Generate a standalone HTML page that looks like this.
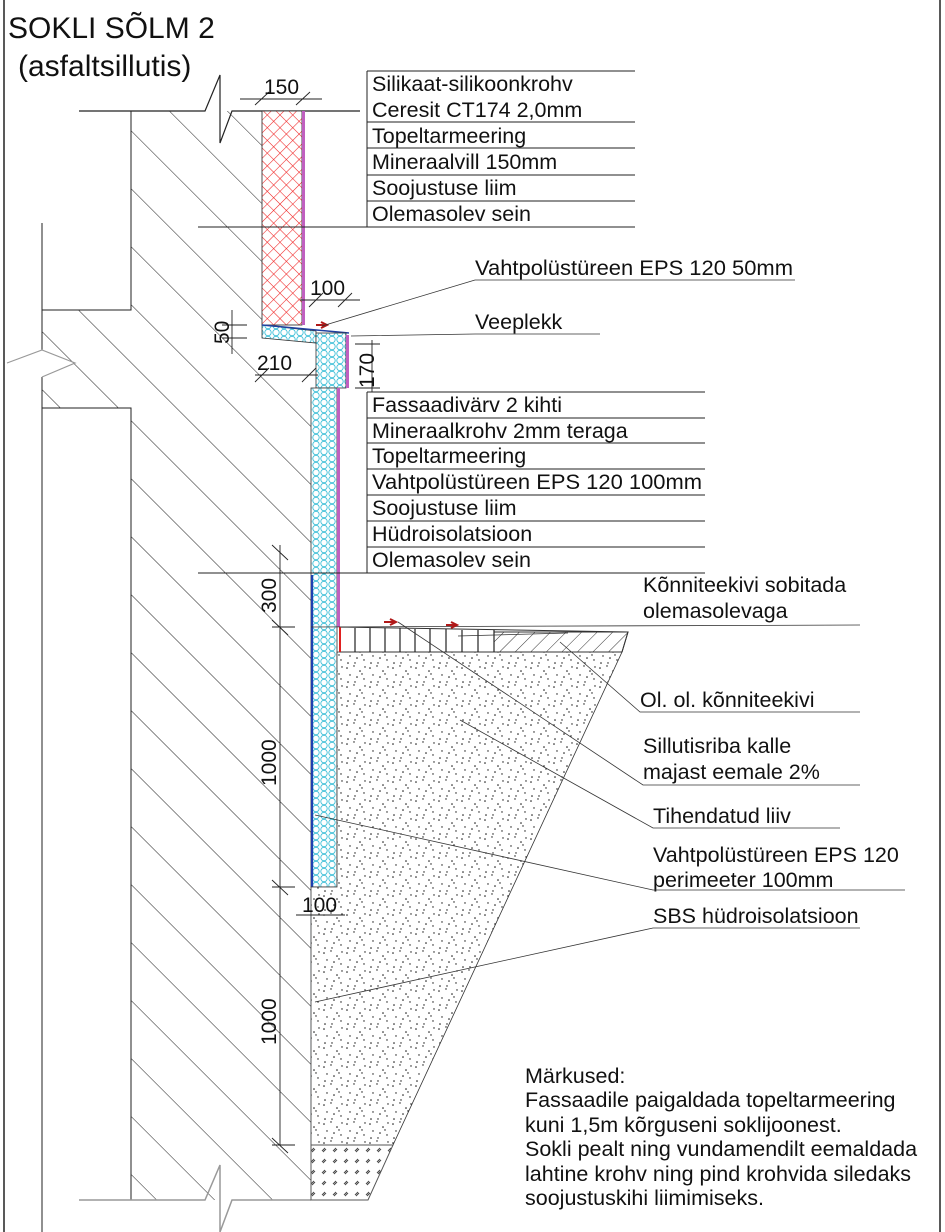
<!DOCTYPE html>
<html><head><meta charset="utf-8"><style>
html,body{margin:0;padding:0;background:#fff}
svg{display:block}
text{font-family:"Liberation Sans",Arial,sans-serif;fill:#111}
</style></head><body>
<svg width="945" height="1232" viewBox="0 0 945 1232" xmlns="http://www.w3.org/2000/svg">
<defs>
<pattern id="wallh" patternUnits="userSpaceOnUse" width="41" height="41" patternTransform="rotate(-45)">
<line x1="0" y1="0" x2="0" y2="41" stroke="#222" stroke-width="1"/>
</pattern>
<pattern id="redx" patternUnits="userSpaceOnUse" width="9" height="9" patternTransform="rotate(45)">
<rect width="9" height="9" fill="#fff"/>
<line x1="0" y1="0" x2="9" y2="0" stroke="#f02020" stroke-width="1.1"/>
<line x1="0" y1="0" x2="0" y2="9" stroke="#f02020" stroke-width="1.1"/>
</pattern>
<pattern id="hex" patternUnits="userSpaceOnUse" width="8" height="7">
<rect width="8" height="7" fill="#fff"/>
<circle cx="4" cy="3.5" r="3.2" fill="none" stroke="#40c0d8" stroke-width="0.9"/>
</pattern>
<pattern id="sand" patternUnits="userSpaceOnUse" width="23" height="19">
<rect width="23" height="19" fill="#fff"/>
<circle cx="2" cy="3" r="0.8" fill="#111"/><circle cx="9" cy="1" r="0.7" fill="#111"/>
<circle cx="15" cy="6" r="0.8" fill="#111"/><circle cx="20" cy="2" r="0.7" fill="#111"/>
<circle cx="5" cy="10" r="0.7" fill="#111"/><circle cx="12" cy="12" r="0.8" fill="#111"/>
<circle cx="19" cy="14" r="0.7" fill="#111"/><circle cx="3" cy="17" r="0.8" fill="#111"/>
<circle cx="10" cy="17" r="0.7" fill="#111"/><circle cx="17" cy="9" r="0.7" fill="#111"/>
</pattern>
<pattern id="grav" patternUnits="userSpaceOnUse" width="11" height="11">
<rect width="11" height="11" fill="#fff"/>
<path d="M3 7 L6 4 M4 8 L7 5" stroke="#444" stroke-width="1"/>
</pattern>
<pattern id="pav" patternUnits="userSpaceOnUse" width="11" height="11" patternTransform="rotate(45)">
<line x1="0" y1="0" x2="0" y2="11" stroke="#333" stroke-width="1"/>
</pattern>
</defs>

<line x1="4" y1="0" x2="4" y2="1232" stroke="#222" stroke-width="1.5"/>
<line x1="940" y1="0" x2="940" y2="1232" stroke="#222" stroke-width="1.5"/>

<text x="8" y="38" font-size="30">SOKLI SÕLM 2</text>
<text x="18" y="76" font-size="30">(asfaltsillutis)</text>

<polygon points="131,111 262,111 262,338 311,388 311,1200 131,1200 131,408 42,408 42,310 131,310" fill="url(#wallh)"/>
<polyline points="131,111 131,310 42,310" fill="none" stroke="#222" stroke-width="1"/>
<polyline points="131,1200 131,408 42,408" fill="none" stroke="#222" stroke-width="1"/>
<line x1="42" y1="223" x2="42" y2="350" stroke="#222"/>
<line x1="42" y1="377" x2="42" y2="1232" stroke="#222"/>
<polyline points="7,363 42,350 75,363 42,377" fill="none" stroke="#999" stroke-width="1.2"/>
<polyline points="79,111 205,111 220,75 220,143 232,111 360,111" fill="none" stroke="#222" stroke-width="1.2"/>
<polyline points="79,1200 205,1200 220,1165 220,1232 232,1200 311,1200" fill="none" stroke="#999" stroke-width="1.5"/>

<rect x="262" y="111" width="40" height="214" fill="url(#redx)" stroke="#222" stroke-width="0.8"/>
<rect x="302" y="111" width="3" height="214" fill="#c060c0"/>
<polygon points="262,325 316,331 316,343 262,338" fill="url(#hex)" stroke="#333" stroke-width="0.8"/>
<line x1="262" y1="325" x2="349" y2="333" stroke="#2040a0" stroke-width="1.5"/>
<rect x="316" y="333" width="30" height="55" fill="url(#hex)" stroke="#333" stroke-width="0.8"/>
<rect x="346" y="335" width="3" height="53" fill="#c060c0"/>
<rect x="311" y="388" width="26" height="499" fill="url(#hex)" stroke="#333" stroke-width="0.8"/>
<rect x="337" y="388" width="3" height="239" fill="#c060c0"/>
<line x1="312" y1="575" x2="312" y2="1145" stroke="#2040b0" stroke-width="2.2"/>

<polygon points="337,652 622,652 393,1145 311,1145 311,887 337,887" fill="url(#sand)" stroke="#333" stroke-width="0.8"/>
<polygon points="311,1145 393,1145 368,1200 311,1200" fill="url(#grav)" stroke="#555" stroke-width="1"/>
<polygon points="340,627 628,632 622,652 340,652" fill="#fff" stroke="#333" stroke-width="1"/>
<polygon points="494,632 628,632 622,652 494,652" fill="url(#pav)" stroke="#333" stroke-width="1"/>
<g stroke="#222" stroke-width="1.2">
<line x1="355" y1="628" x2="355" y2="652"/><line x1="370" y1="628" x2="370" y2="652"/>
<line x1="385" y1="628" x2="385" y2="652"/><line x1="400" y1="628" x2="400" y2="652"/>
<line x1="415" y1="629" x2="415" y2="652"/><line x1="430" y1="629" x2="430" y2="652"/>
<line x1="446" y1="629" x2="446" y2="652"/><line x1="462" y1="630" x2="462" y2="652"/>
<line x1="478" y1="630" x2="478" y2="652"/><line x1="494" y1="630" x2="494" y2="652"/>
</g>
<line x1="340" y1="627" x2="340" y2="652" stroke="#e02020" stroke-width="2"/>
<line x1="311" y1="627" x2="860" y2="625" stroke="#333" stroke-width="0.8"/>
<path d="M384 622 L395 622 M390 619 L396 622 L390 625" stroke="#b01818" stroke-width="2" fill="none"/>
<path d="M446 625 L456 625 M451 622 L457 625 L451 628" stroke="#b01818" stroke-width="2" fill="none"/>
<path d="M316 325 L326 325 M321 322 L327 325 L321 328" stroke="#b01818" stroke-width="2" fill="none"/>

<g stroke="#222" stroke-width="1">
<line x1="367" y1="71" x2="367" y2="227"/>
<line x1="367" y1="71" x2="635" y2="71"/>
<line x1="367" y1="122" x2="635" y2="122"/>
<line x1="367" y1="148" x2="635" y2="148"/>
<line x1="367" y1="175" x2="635" y2="175"/>
<line x1="367" y1="201" x2="635" y2="201"/>
<line x1="198" y1="227" x2="635" y2="227"/>
<line x1="367" y1="392" x2="367" y2="573"/>
<line x1="367" y1="392" x2="705" y2="392"/>
<line x1="367" y1="418" x2="705" y2="418"/>
<line x1="367" y1="443" x2="705" y2="443"/>
<line x1="367" y1="469" x2="705" y2="469"/>
<line x1="367" y1="495" x2="705" y2="495"/>
<line x1="367" y1="521" x2="705" y2="521"/>
<line x1="367" y1="547" x2="705" y2="547"/>
<line x1="198" y1="573" x2="705" y2="573"/>
</g>
<g font-size="21.5">
<text x="372" y="91">Silikaat-silikoonkrohv</text>
<text x="372" y="117">Ceresit CT174 2,0mm</text>
<text x="372" y="143">Topeltarmeering</text>
<text x="372" y="169">Mineraalvill 150mm</text>
<text x="372" y="195">Soojustuse liim</text>
<text x="372" y="221">Olemasolev sein</text>
<text x="372" y="412">Fassaadivärv 2 kihti</text>
<text x="372" y="438">Mineraalkrohv 2mm teraga</text>
<text x="372" y="463">Topeltarmeering</text>
<text x="372" y="489" textLength="330" lengthAdjust="spacingAndGlyphs">Vahtpolüstüreen EPS 120 100mm</text>
<text x="372" y="515">Soojustuse liim</text>
<text x="372" y="541">Hüdroisolatsioon</text>
<text x="372" y="567">Olemasolev sein</text>

<text x="475" y="275" textLength="318" lengthAdjust="spacingAndGlyphs">Vahtpolüstüreen EPS 120 50mm</text>
<text x="475" y="329">Veeplekk</text>
<text x="643" y="592">Kõnniteekivi sobitada</text>
<text x="643" y="618">olemasolevaga</text>
<text x="640" y="707">Ol. ol. kõnniteekivi</text>
<text x="643" y="753">Sillutisriba kalle</text>
<text x="643" y="779">majast eemale 2%</text>
<text x="653" y="823">Tihendatud liiv</text>
<text x="653" y="862">Vahtpolüstüreen EPS 120</text>
<text x="653" y="887">perimeeter 100mm</text>
<text x="653" y="923">SBS hüdroisolatsioon</text>
<text x="525" y="1083">Märkused:</text>
<text x="525" y="1107">Fassaadile paigaldada topeltarmeering</text>
<text x="525" y="1132">kuni 1,5m kõrguseni soklijoonest.</text>
<text x="525" y="1156">Sokli pealt ning vundamendilt eemaldada</text>
<text x="525" y="1181">lahtine krohv ning pind krohvida siledaks</text>
<text x="525" y="1205">soojustuskihi liimimiseks.</text>
</g>
<g stroke="#333" stroke-width="0.8" fill="none">
<polyline points="795,280 475,280 322,326"/>
<polyline points="600,334 475,334 351,336"/>
<polyline points="860,712 640,712 560,642"/>
<polyline points="860,785 643,785 398,622"/>
<polyline points="840,828 653,828 460,720"/>
<polyline points="905,890 653,890 315,815"/>
<polyline points="860,928 653,928 315,1002"/>
<line x1="568" y1="633" x2="458" y2="636"/>
</g>

<g stroke="#222" stroke-width="0.9">
<line x1="240" y1="99" x2="322" y2="99"/>
<line x1="255" y1="105" x2="269" y2="92"/><line x1="296" y1="105" x2="310" y2="92"/>
<line x1="300" y1="300" x2="360" y2="300"/>
<line x1="309" y1="307" x2="323" y2="293"/><line x1="338" y1="307" x2="352" y2="293"/>
<line x1="255" y1="375" x2="318" y2="375"/>
<line x1="255" y1="382" x2="269" y2="368"/><line x1="302" y1="382" x2="316" y2="368"/>
<line x1="232" y1="310" x2="232" y2="354"/>
<line x1="222" y1="325" x2="247" y2="325"/><line x1="222" y1="338" x2="247" y2="338"/>
<line x1="372" y1="340" x2="372" y2="392"/>
<line x1="355" y1="344" x2="380" y2="344"/><line x1="355" y1="388" x2="380" y2="388"/>
<line x1="280" y1="545" x2="280" y2="1145"/>
<line x1="272" y1="627" x2="295" y2="627"/><line x1="272" y1="887" x2="295" y2="887"/>
<line x1="272" y1="1145" x2="295" y2="1145"/>
<line x1="272" y1="620" x2="288" y2="635"/><line x1="272" y1="880" x2="288" y2="895"/>
<line x1="272" y1="1138" x2="288" y2="1153"/><line x1="272" y1="545" x2="288" y2="560"/>
<line x1="296" y1="915" x2="345" y2="915"/>
</g>
<g font-size="21">
<text x="264" y="94">150</text>
<text x="310" y="295">100</text>
<text x="257" y="370">210</text>
<text x="302" y="912">100</text>
<text transform="translate(229,344) rotate(-90)">50</text>
<text transform="translate(374,388) rotate(-90)">170</text>
<text transform="translate(276,613) rotate(-90)">300</text>
<text transform="translate(276,786) rotate(-90)">1000</text>
<text transform="translate(276,1045) rotate(-90)">1000</text>
</g>
</svg>
</body></html>
